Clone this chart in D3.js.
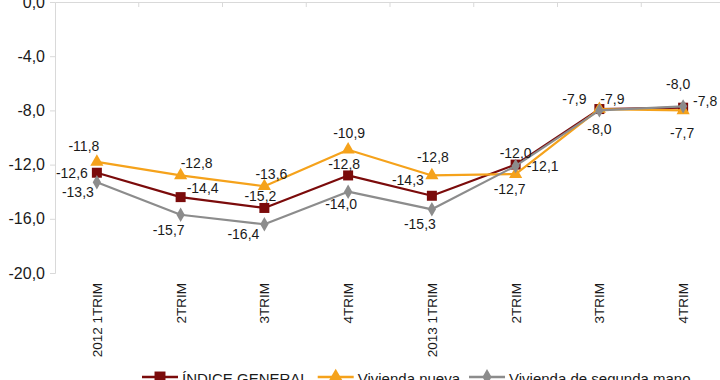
<!DOCTYPE html>
<html><head><meta charset="utf-8">
<script src="https://cdn.jsdelivr.net/npm/d3@7"></script>
<style>
html,body{margin:0;padding:0;background:#fff;overflow:hidden}
text{font-family:"Liberation Sans",Arial,sans-serif;fill:#1a1a1a}
</style></head>
<body><svg id="c" width="720" height="380"></svg>
<script>
// ---- data ----
const categories = ["2012 1TRIM","2TRIM","3TRIM","4TRIM","2013 1TRIM","2TRIM","3TRIM","4TRIM"];
const indiceGeneral = [-12.6,-14.4,-15.2,-12.8,-14.3,-12.0,-7.9,-7.8];
const viviendaNueva = [-11.8,-12.8,-13.6,-10.9,-12.8,-12.7,-7.9,-8.0];
const viviendaSegunda = [-13.3,-15.7,-16.4,-14.0,-15.3,-12.1,-8.0,-7.7];
const seriesNames = ["ÍNDICE GENERAL","Vivienda nueva","Vivienda de segunda mano"];
const yTicks = [0,-4,-8,-12,-16,-20];

// ---- layout (label offsets relative to each point: [dx, dy]) ----
const labelOffsets = [
  [[-25,0],[22,-9],[-4,-12],[-4,-11],[-24,-16],[0,-12],[13,-10],[22,-7]],
  [[-13,-16],[16,-12],[7,-12],[1,-17],[1,-18],[-6,15],[-25,-10],[-5,-26]],
  [[-19,10],[-12,15],[-21,10],[-7,12],[-12,15],[27,0],[0,19],[-1,27]]
];
const colors = ["#7b0b0b","#f5a21b","#8c8c8c"];
const shapes = [d3.symbolSquare, d3.symbolTriangle, d3.symbolDiamond];
const symSizes = [100, 75, 60];

const svg = d3.select("#c");
const x = d3.scaleBand().domain(d3.range(categories.length)).range([55, 725]);
const y = d3.scaleLinear().domain([0,-20]).range([2, 273]);
const fmt = v => d3.format(".1f")(v).replace(".", ",").replace("−","-");

// y axis
const yAxis = svg.append("g").attr("transform","translate(55,0)")
  .call(d3.axisLeft(y).tickValues(yTicks).tickSize(5).tickPadding(5).tickFormat(fmt));
yAxis.select(".domain").attr("stroke","#d9d9d9");
yAxis.selectAll(".tick line").attr("stroke","#d9d9d9");
yAxis.selectAll(".tick text").attr("font-size",16).attr("font-family","Liberation Sans, Arial").attr("fill","#1a1a1a");

// top category axis line at 0
const xAxis = svg.append("g").attr("transform",`translate(0,${y(0)})`)
  .call(d3.axisBottom(x).tickSize(0).tickFormat(""));
xAxis.select(".domain").attr("stroke","#d9d9d9");
svg.append("g").selectAll("line").data(d3.range(1, categories.length)).join("line")
  .attr("x1", i => x(i)).attr("x2", i => x(i))
  .attr("y1", y(0)).attr("y2", y(0)+5).attr("stroke","#d9d9d9");

// category labels at bottom, rotated
svg.append("g").selectAll("text").data(categories).join("text")
  .attr("transform",(d,i)=>`translate(${x(i)+x.bandwidth()/2+5},283) rotate(-90)`)
  .attr("text-anchor","end").attr("font-size",13.5).text(d=>d);

const allSeries = [indiceGeneral, viviendaNueva, viviendaSegunda];
const line = d3.line().x((d,i)=>x(i)+x.bandwidth()/2).y(d=>y(d));

allSeries.forEach((vals, s) => {
  const g = svg.append("g");
  g.append("path").datum(vals).attr("d", line).attr("fill","none")
    .attr("stroke", colors[s]).attr("stroke-width", 2.2).attr("stroke-linejoin","round");
  g.selectAll("path.m").data(vals).join("path").attr("class","m")
    .attr("d", d3.symbol().type(shapes[s]).size(symSizes[s]))
    .attr("transform",(d,i)=>`translate(${x(i)+x.bandwidth()/2},${y(d)})`)
    .attr("fill", colors[s]);
});

// data labels
allSeries.forEach((vals, s) => {
  svg.append("g").selectAll("text").data(vals).join("text")
    .attr("x",(d,i)=>x(i)+x.bandwidth()/2+labelOffsets[s][i][0])
    .attr("y",(d,i)=>y(d)+labelOffsets[s][i][1])
    .attr("dy","0.35em").attr("text-anchor","middle").attr("font-size",14)
    .text(d=>fmt(d));
});

// legend
const lg = svg.append("g");
let lx = 142;
seriesNames.forEach((name, s) => {
  const ly = 377;
  lg.append("line").attr("x1",lx).attr("x2",lx+36).attr("y1",ly).attr("y2",ly)
    .attr("stroke",colors[s]).attr("stroke-width",2.5);
  lg.append("path").attr("d", d3.symbol().type(shapes[s]).size(symSizes[s]*1.2))
    .attr("transform",`translate(${lx+18},${ly})`).attr("fill",colors[s]);
  const t = lg.append("text").attr("x",lx+40).attr("y",384).attr("font-size",15).text(name);
  lx += 40 + t.node().getComputedTextLength() + 9;
});
</script></body></html>
